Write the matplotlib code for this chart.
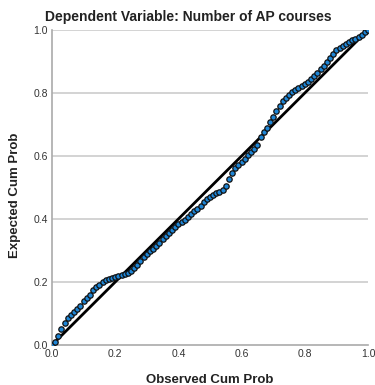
import matplotlib
matplotlib.use("Agg")
from matplotlib import pyplot as plt

# observed vs expected cumulative probability (P-P plot of residuals)
observed = [0.00, 0.01, 0.02, 0.03, 0.04, 0.05, 0.06, 0.07, 0.08, 0.09,
            0.10, 0.11, 0.12, 0.13, 0.14, 0.15, 0.16, 0.17, 0.18, 0.19,
            0.20, 0.21, 0.22, 0.23, 0.24, 0.25, 0.26, 0.27, 0.28, 0.29,
            0.30, 0.31, 0.32, 0.33, 0.34, 0.35, 0.36, 0.37, 0.38, 0.39,
            0.40, 0.41, 0.42, 0.43, 0.44, 0.45, 0.46, 0.47, 0.48, 0.49,
            0.50, 0.51, 0.52, 0.53, 0.54, 0.55, 0.56, 0.57, 0.58, 0.59,
            0.60, 0.61, 0.62, 0.63, 0.64, 0.65, 0.66, 0.67, 0.68, 0.69,
            0.70, 0.71, 0.72, 0.73, 0.74, 0.75, 0.76, 0.77, 0.78, 0.79,
            0.80, 0.81, 0.82, 0.83, 0.84, 0.85, 0.86, 0.87, 0.88, 0.89,
            0.90, 0.91, 0.92, 0.93, 0.94, 0.95, 0.96, 0.97, 0.98, 0.99, 1.00]
expected = [0.000, 0.010, 0.030, 0.050, 0.070, 0.085, 0.095, 0.105, 0.115, 0.125,
            0.140, 0.150, 0.160, 0.175, 0.185, 0.190, 0.200, 0.205, 0.208, 0.212,
            0.217, 0.220, 0.223, 0.226, 0.230, 0.235, 0.245, 0.255, 0.268, 0.280,
            0.290, 0.298, 0.306, 0.315, 0.325, 0.335, 0.345, 0.355, 0.365, 0.375,
            0.383, 0.390, 0.398, 0.405, 0.415, 0.425, 0.432, 0.440, 0.455, 0.465,
            0.471, 0.477, 0.482, 0.487, 0.492, 0.505, 0.527, 0.545, 0.562, 0.572,
            0.580, 0.590, 0.603, 0.612, 0.622, 0.635, 0.660, 0.675, 0.690, 0.708,
            0.725, 0.742, 0.760, 0.775, 0.785, 0.795, 0.802, 0.808, 0.815, 0.822,
            0.828, 0.836, 0.845, 0.855, 0.865, 0.875, 0.885, 0.898, 0.912, 0.925,
            0.935, 0.943, 0.950, 0.956, 0.962, 0.967, 0.972, 0.978, 0.985, 0.993, 1.000]
ticks = [0.0, 0.2, 0.4, 0.6, 0.8, 1.0]

plt.rcParams['font.family'] = ['Liberation Sans', 'DejaVu Sans']

fig = plt.figure(figsize=(3.75, 3.85), dpi=100)
ax = fig.add_axes([52 / 375, 1 - 345 / 385, 316 / 375, 315 / 385])

for t in ticks[1:]:
    ax.axhline(t, color="#cccccc", lw=1.2, zorder=0)

ax.plot([0, 1], [0, 1], color="black", lw=2, zorder=2)
ax.scatter(observed, expected, s=15, color="#1f86d6", edgecolor="#111111",
           linewidth=0.9, zorder=3)

ax.set_xlim(0, 1)
ax.set_ylim(0, 1)
ax.set_xticks(ticks)
ax.set_yticks(ticks)
ax.set_xticklabels([f"{t:.1f}" for t in ticks])
ax.set_yticklabels([f"{t:.1f}" for t in ticks])
ax.tick_params(length=0, labelsize=7.5, labelcolor="#333333", pad=3)
for side in ["top", "right"]:
    ax.spines[side].set_visible(False)
for side in ["left", "bottom"]:
    ax.spines[side].set_color("#aaaaaa")
    ax.spines[side].set_linewidth(1.2)

fig.text(45 / 375, 1 - 17 / 385, "Dependent Variable: Number of AP courses",
         fontsize=10, fontweight="bold", color="#222222", va="center", ha="left")
fig.text(210 / 375, 1 - 380 / 385, "Observed Cum Prob", fontsize=9.5,
         fontweight="bold", color="#222222", ha="center", va="center")
fig.text(15 / 375, 1 - 195 / 385, "Expected Cum Prob", fontsize=9.5,
         fontweight="bold", color="#222222", ha="center", va="center", rotation=90)

fig.savefig("out.png", dpi=100)
